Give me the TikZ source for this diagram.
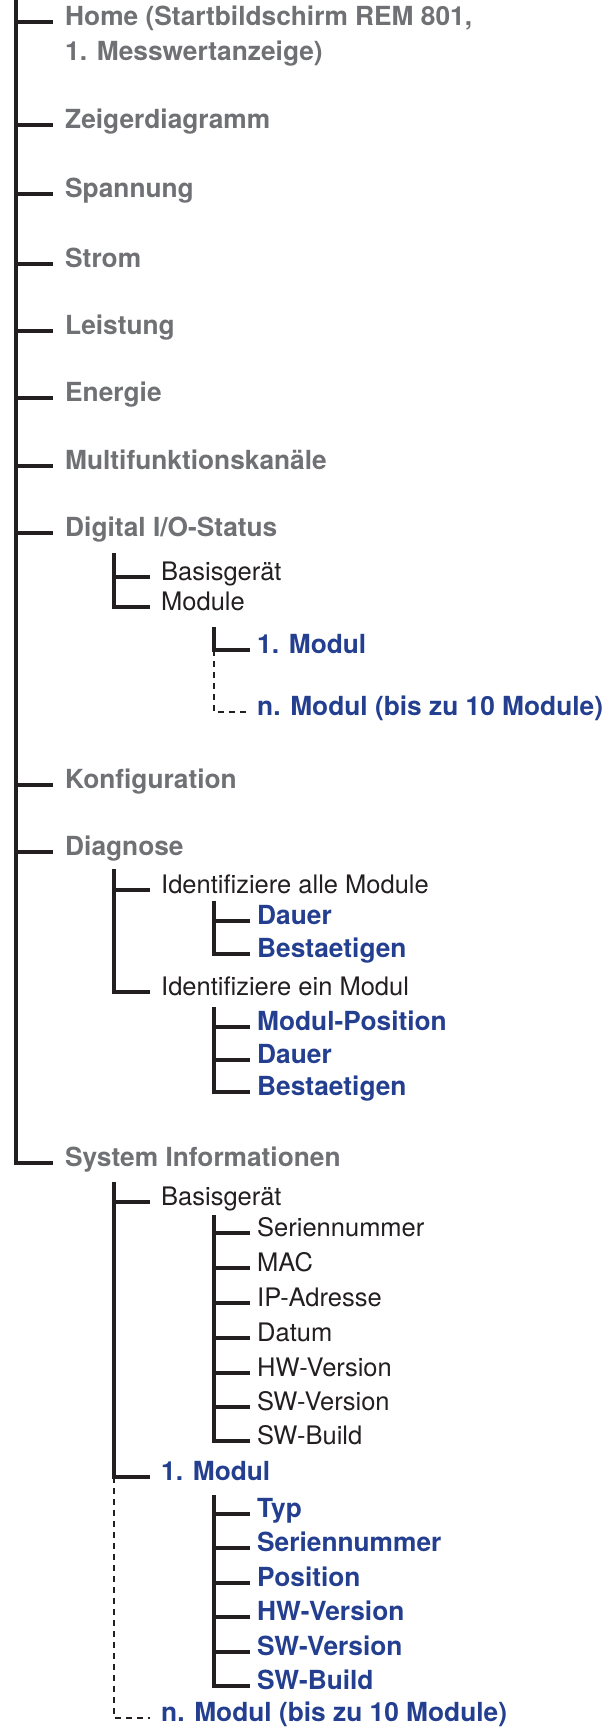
\documentclass[tikz,border=0pt]{standalone}
\usepackage{fontspec}
\setmainfont{TeX Gyre Heros}
\definecolor{menugrey}{RGB}{112,113,117}
\definecolor{menublue}{RGB}{36,63,143}
\definecolor{menublack}{RGB}{35,31,32}
\newcommand{\menufont}{\fontsize{25.5}{30}\selectfont}
\newcommand{\menubold}{\fontsize{26.3}{30}\selectfont\bfseries}
\begin{document}
\begin{tikzpicture}[x=1pt,y=-1pt]
        \tikzstyle{item}=[anchor=west, inner sep=0pt, text height=6.5pt, text depth=0pt]
        \tikzstyle{topitem}=[item, font=\menubold, text=menugrey]
        \tikzstyle{subitem}=[item, font=\menufont, text=menublack]
        \tikzstyle{leafitem}=[item, font=\menubold, text=menublue]
        \tikzstyle{branch}=[draw=menublack, line width=3.2pt]
        \tikzstyle{dots}=[draw=menublack, line width=2.7pt, dash pattern=on 6pt off 5pt]
        \useasboundingbox (0,0) rectangle (610,1730);
        % main menu
        \coordinate (root) at (16,0);
        \node[topitem] (home) at (65,22) {Home (Startbildschirm REM 801,};
        \node[topitem] (home2) at (65,57) {1. Messwertanzeige)};
        \node[topitem] (zeiger) at (65,125) {Zeigerdiagramm};
        \node[topitem] (spannung) at (65,194) {Spannung};
        \node[topitem] (strom) at (65,264) {Strom};
        \node[topitem] (leistung) at (65,331) {Leistung};
        \node[topitem] (energie) at (65,398) {Energie};
        \node[topitem] (multi) at (65,466) {Multifunktionskan\"ale};
        \node[topitem] (dio) at (65,533) {Digital I/O-Status};
        \node[topitem] (konf) at (65,785) {Konfiguration};
        \node[topitem] (diag) at (65,852) {Diagnose};
        \node[topitem] (sys) at (65,1163) {System Informationen};
        \draw[branch] (root) |- ([xshift=-12pt]sys.west);
        \foreach \n in {home,zeiger,spannung,strom,leistung,energie,multi,dio,konf,diag}
            \draw[branch] (root |- \n.west) -- ([xshift=-12pt]\n.west);
        % Digital I/O-Status
        \coordinate (dio-t) at (114,553);
        \node[subitem] (dio-bas) at (161,577) {Basisger\"at};
        \node[subitem] (dio-mod) at (161,607) {Module};
        \draw[branch] (dio-t) |- ([xshift=-11pt]dio-mod.west);
        \draw[branch] (dio-t |- dio-bas.west) -- ([xshift=-11pt]dio-bas.west);
        \coordinate (mod-t) at (214,627);
        \node[leafitem] (mod-1) at (257,650) {1. Modul};
        \node[leafitem] (mod-n) at (257,712) {n. Modul (bis zu 10 Module)};
        \draw[branch] (mod-t) |- ([xshift=-7pt]mod-1.west);
        \draw[dots] (mod-t |- mod-1.west) |- ([xshift=-7pt]mod-n.west);
        % Diagnose
        \coordinate (diag-t) at (114,869);
        \node[subitem] (id-all) at (161,890) {Identifiziere alle Module};
        \node[subitem] (id-one) at (161,992) {Identifiziere ein Modul};
        \draw[branch] (diag-t) |- ([xshift=-11pt]id-one.west);
        \draw[branch] (diag-t |- id-all.west) -- ([xshift=-11pt]id-all.west);
        \coordinate (all-t) at (214,901);
        \node[leafitem] (all-dauer) at (257,921) {Dauer};
        \node[leafitem] (all-best) at (257,954) {Bestaetigen};
        \draw[branch] (all-t) |- ([xshift=-7pt]all-best.west);
        \draw[branch] (all-t |- all-dauer.west) -- ([xshift=-7pt]all-dauer.west);
        \coordinate (one-t) at (214,1007);
        \node[leafitem] (one-pos) at (257,1027) {Modul-Position};
        \node[leafitem] (one-dauer) at (257,1060) {Dauer};
        \node[leafitem] (one-best) at (257,1092) {Bestaetigen};
        \draw[branch] (one-t) |- ([xshift=-7pt]one-best.west);
        \foreach \n in {one-pos,one-dauer}
            \draw[branch] (one-t |- \n.west) -- ([xshift=-7pt]\n.west);
        % System Informationen
        \coordinate (sys-t) at (114,1182);
        \node[subitem] (sys-bas) at (161,1202) {Basisger\"at};
        \node[leafitem] (sys-mod1) at (161,1477) {1. Modul};
        \node[leafitem] (sys-modn) at (161,1718) {n. Modul (bis zu 10 Module)};
        \draw[branch] (sys-t) |- ([xshift=-11pt]sys-mod1.west);
        \draw[branch] (sys-t |- sys-bas.west) -- ([xshift=-11pt]sys-bas.west);
        \draw[dots] (sys-t |- sys-mod1.west) |- ([xshift=-11pt]sys-modn.west);
        \coordinate (bas-t) at (214,1215);
        \node[subitem] (bas-sn) at (257,1233) {Seriennummer};
        \node[subitem] (bas-mac) at (257,1268) {MAC};
        \node[subitem] (bas-ip) at (257,1303) {IP-Adresse};
        \node[subitem] (bas-dat) at (257,1338) {Datum};
        \node[subitem] (bas-hw) at (257,1373) {HW-Version};
        \node[subitem] (bas-sw) at (257,1407) {SW-Version};
        \node[subitem] (bas-build) at (257,1441) {SW-Build};
        \draw[branch] (bas-t) |- ([xshift=-7pt]bas-build.west);
        \foreach \n in {bas-sn,bas-mac,bas-ip,bas-dat,bas-hw,bas-sw}
            \draw[branch] (bas-t |- \n.west) -- ([xshift=-7pt]\n.west);
        \coordinate (m1-t) at (214,1495);
        \node[leafitem] (m1-typ) at (257,1514) {Typ};
        \node[leafitem] (m1-sn) at (257,1548) {Seriennummer};
        \node[leafitem] (m1-pos) at (257,1583) {Position};
        \node[leafitem] (m1-hw) at (257,1617) {HW-Version};
        \node[leafitem] (m1-sw) at (257,1652) {SW-Version};
        \node[leafitem] (m1-build) at (257,1686) {SW-Build};
        \draw[branch] (m1-t) |- ([xshift=-7pt]m1-build.west);
        \foreach \n in {m1-typ,m1-sn,m1-pos,m1-hw,m1-sw}
            \draw[branch] (m1-t |- \n.west) -- ([xshift=-7pt]\n.west);
    \end{tikzpicture}
\end{document}
